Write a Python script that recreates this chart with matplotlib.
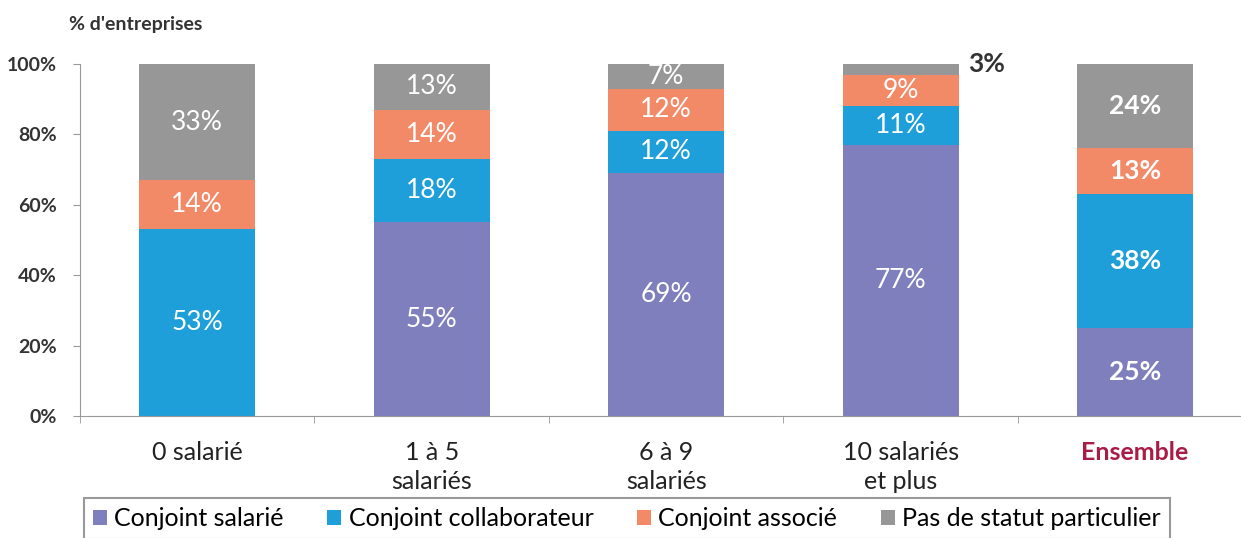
import matplotlib.pyplot as plt
import numpy as np

plt.rcParams['font.family'] = ['Lato', 'DejaVu Sans']

categories = ["0 salarié", "1 à 5\nsalariés", "6 à 9\nsalariés", "10 salariés\net plus", "Ensemble"]
series = ["Conjoint salarié", "Conjoint collaborateur", "Conjoint associé", "Pas de statut particulier"]
salarie = [0, 55, 69, 77, 25]
collaborateur = [53, 18, 12, 11, 38]
associe = [14, 14, 12, 9, 13]
pas_statut = [33, 13, 7, 3, 24]
yticks = [0, 20, 40, 60, 80, 100]

colors = ["#7f7fbd", "#1e9fd9", "#f28a68", "#979797"]
values = [salarie, collaborateur, associe, pas_statut]

fig = plt.figure(figsize=(12.41, 5.38), dpi=100)
ax = fig.add_axes([0.0645, 0.2268, 0.9355, 0.6543])

x = np.arange(len(categories))
bottom = np.zeros(len(categories))
for name, vals, col in zip(series, values, colors):
    vals = np.array(vals, dtype=float)
    ax.bar(x, vals, width=0.495, bottom=bottom, color=col, label=name, zorder=2)
    for i, v in enumerate(vals):
        if v <= 0:
            continue
        bold = categories[i] == "Ensemble"
        if v < 5:
            # small segment: label outside, to the right
            ax.text(x[i] + 0.29, bottom[i] + v, f"{v:.0f}%", ha="left", va="center",
                    fontsize=19, fontweight="bold", color="#333333")
        else:
            ax.text(x[i], bottom[i] + v / 2, f"{v:.0f}%", ha="center", va="center",
                    fontsize=19, color="white", fontweight="bold" if bold else "normal")
    bottom += vals

ax.set_xlim(-0.499, 4.452)
ax.set_ylim(0, 100)
ax.set_yticks(yticks)
ax.set_yticklabels([f"{t}%" for t in yticks], fontsize=14, fontweight="bold", color="#333333")
ax.set_xticks(x)
ax.set_xticklabels(categories, fontsize=18, color="#222222", linespacing=1.3)
ax.get_xticklabels()[-1].set_color("#a81c46")
ax.get_xticklabels()[-1].set_fontweight("bold")
ax.tick_params(axis="x", length=0, pad=18)
ax.set_xticks(np.arange(-0.5, 4.5, 1), minor=True)
ax.tick_params(axis="x", which="minor", length=5, color="#999999")
ax.tick_params(axis="y", length=5, color="#999999", pad=12)

for s in ["top", "right"]:
    ax.spines[s].set_visible(False)
ax.spines["left"].set_color("#999999")
ax.spines["bottom"].set_color("#999999")

fig.text(0.056, 0.945, "% d'entreprises", fontsize=14, fontweight="bold", color="#333333")

leg = fig.legend(loc="upper left", bbox_to_anchor=(0.0677, 0.074), ncol=4, fontsize=18,
                 frameon=True, fancybox=False, edgecolor="#808080", handlelength=0.55,
                 handleheight=0.55, handletextpad=0.3, columnspacing=1.75, borderpad=0.35,
                 borderaxespad=0)
leg.get_frame().set_linewidth(1.5)

fig.savefig("out.png", dpi=100)
